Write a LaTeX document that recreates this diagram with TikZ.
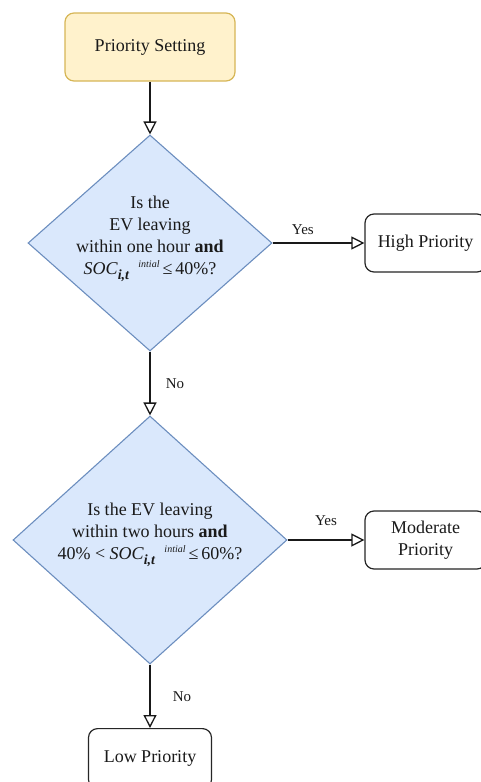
\documentclass[tikz,border=0pt]{standalone}
\usepackage{fontspec}
\setmainfont{Liberation Serif}
\usetikzlibrary{shapes.geometric,arrows.meta}

\definecolor{startfill}{HTML}{FFF2CC}
\definecolor{startline}{HTML}{D6B656}
\definecolor{decfill}{HTML}{DAE8FC}
\definecolor{decline}{HTML}{6C8EBF}
\definecolor{ink}{HTML}{1A1A1A}

\tikzset{
  startbox/.style={draw=startline, fill=startfill, line width=1.2pt,
    rounded corners=9pt, minimum width=170pt, minimum height=68pt,
    inner sep=0pt, text=ink, font=\fontsize{18}{21.7}\selectfont},
  decision/.style={draw=decline, fill=decfill, line width=1.1pt,
    shape=diamond, inner sep=0pt},
  dectext/.style={align=center, inner sep=0pt, text=ink,
    font=\fontsize{18}{21.7}\selectfont},
  outbox/.style={draw=black!85, fill=white, line width=1.2pt,
    rounded corners=9pt, inner sep=0pt, align=center, text=ink,
    font=\fontsize{18}{21.7}\selectfont},
  flow/.style={draw=black!90, line width=1.3pt,
    -{Triangle[open, length=13pt, width=13pt, line width=1.3pt]}},
  lbl/.style={text=ink, inner sep=0pt, font=\fontsize{15}{18}\selectfont}
}

% inline notation for the state of charge
\newcommand{\socvar}{\textit{SOC}\raisebox{-5pt}{\fontsize{14}{14}\selectfont\textbf{\textit{i,t}}}\hspace{9pt}\raisebox{7pt}{\fontsize{10}{10}\selectfont\textit{intial}}}

\begin{document}
\begin{tikzpicture}[x=1pt, y=-1pt]
  \useasboundingbox (0,0) rectangle (481,782);
  \clip (0,0) rectangle (481,782);

  % start
  \node[startbox] (start) at (150,47) {Priority Setting};

  % first decision
  \node[decision, minimum width=244pt, minimum height=216pt] (d1) at (150,243) {};
  \node[dectext] (d1t) at (150,239) {Is the\\EV leaving\\within one hour \textbf{and}\\[1pt]\socvar\,≤\,40\%?};

  % second decision
  \node[decision, minimum width=274pt, minimum height=248pt] (d2) at (150,540) {};
  \node[dectext] (d2t) at (150,535) {Is the EV leaving\\within two hours \textbf{and}\\[1pt]40\% < \socvar\,≤\,60\%?};

  % outcomes
  \node[outbox, minimum width=121pt, minimum height=58pt] (high) at (425.5,243) {High Priority};
  \node[outbox, minimum width=121pt, minimum height=58pt] (mod) at (425.5,540) {Moderate\\Priority};
  \node[outbox, minimum width=123pt, minimum height=60pt, anchor=north] (low) at (150,728) {Low Priority};

  % connectors
  \draw[flow] (start.south) -- (d1.north);
  \draw[flow] (d1.east) -- (high.west) node[lbl, pos=0.33, yshift=13pt] {Yes};
  \draw[flow] (d1.south) -- (d2.north) node[lbl, pos=0.5, xshift=25pt] {No};
  \draw[flow] (d2.east) -- (mod.west) node[lbl, pos=0.5, yshift=19pt] {Yes};
  \draw[flow] (d2.south) -- (low.north) node[lbl, pos=0.5, xshift=32pt] {No};
\end{tikzpicture}
\end{document}
